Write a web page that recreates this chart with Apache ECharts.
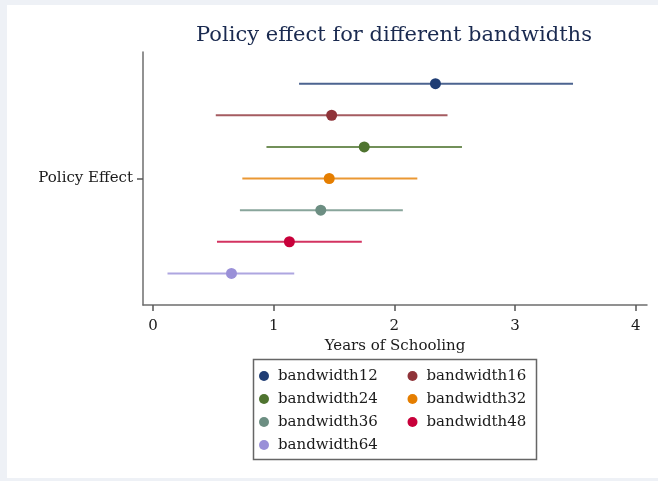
<!DOCTYPE html>
<html>
<head>
<meta charset="utf-8">
<script src="https://cdn.jsdelivr.net/npm/echarts@6/dist/echarts.min.js"></script>
<style>
html,body{margin:0;padding:0;background:#fff;}
#chart{width:658px;height:481px;}
</style>
</head>
<body>
<div id="chart"></div>
<script>
const names = ['bandwidth12','bandwidth16','bandwidth24','bandwidth32','bandwidth36','bandwidth48','bandwidth64'];
const estimates = [2.34, 1.48, 1.75, 1.46, 1.39, 1.13, 0.65];
const lower = [1.21, 0.52, 0.94, 0.74, 0.72, 0.53, 0.12];
const upper = [3.48, 2.44, 2.56, 2.19, 2.07, 1.73, 1.17];
const xTicks = [0, 1, 2, 3, 4];
const yTickValues = [4];
const yTickLabels = ['Policy Effect'];
const colors = ['#1f3d74','#8f3339','#4f7430','#e57e00','#6c8e82','#c8003a','#9a90d8'];

const serif = 'DejaVu Serif';
const series = [];
names.forEach((n, i) => {
  const row = names.length - i;
  series.push({
    name: n, type: 'scatter', symbol: 'circle', symbolSize: 11, z: 4,
    itemStyle: {color: colors[i], opacity: 1},
    data: [[estimates[i], row]]
  });
});
names.forEach((n, i) => {
  const row = names.length - i;
  series.push({
    name: n, type: 'custom', z: 2,
    itemStyle: {color: colors[i]},
    encode: {x: [0, 1], y: 2},
    data: [[lower[i], upper[i], row]],
    renderItem: function (params, api) {
      const y = api.value(2);
      const p1 = api.coord([api.value(0), y]);
      const p2 = api.coord([api.value(1), y]);
      return {type: 'line', shape: {x1: p1[0], y1: p1[1], x2: p2[0], y2: p2[1]},
        style: {stroke: colors[i], lineWidth: 2, opacity: 0.8}};
    }
  });
});

const chart = echarts.init(document.getElementById('chart'));
chart.setOption({
  backgroundColor: '#eef1f6',
  animation: false,
  graphic: [
    {type: 'rect', z: -10, silent: true, shape: {x: 7, y: 5, width: 651, height: 473}, style: {fill: '#ffffff'}},
    {type: 'rect', z: 10, silent: true, shape: {x: 253.5, y: 359.5, width: 283, height: 100}, style: {fill: 'none', stroke: '#666', lineWidth: 1.5}}
  ],
  title: {
    text: 'Policy effect for different bandwidths',
    left: 389, top: 20, textAlign: 'center',
    textStyle: {fontFamily: serif, fontSize: 21, fontWeight: 'normal', color: '#1a2a50'}
  },
  legend: {
    left: 259, top: 368, width: 300, padding: 0,
    itemWidth: 10, itemHeight: 10, itemGap: 7,
    icon: 'circle',
    data: names,
    selectedMode: false,
    textStyle: {fontFamily: serif, fontSize: 15, lineHeight: 16, color: '#1a1a1a', width: 122.5, padding: [0, 0, 0, 4]}
  },
  grid: {left: 143, right: 11, top: 52, bottom: 176},
  xAxis: {
    type: 'value', min: -0.083, max: 4.093,
    name: 'Years of Schooling', nameLocation: 'middle', nameGap: 26,
    nameTextStyle: {fontFamily: serif, fontSize: 15, color: '#1a1a1a', lineHeight: 15},
    splitLine: {show: false},
    axisLine: {show: true, onZero: false, lineStyle: {color: '#6e6e6e', width: 1.5}},
    axisTick: {show: true, length: 6, customValues: xTicks, lineStyle: {color: '#555', width: 1.5}},
    axisLabel: {customValues: xTicks, margin: 14, fontFamily: serif, fontSize: 15, lineHeight: 15, color: '#1a1a1a'}
  },
  yAxis: {
    type: 'value', min: 0, max: 8,
    splitLine: {show: false},
    axisLine: {show: true, onZero: false, lineStyle: {color: '#6e6e6e', width: 1.5}},
    axisTick: {show: true, length: 6, customValues: yTickValues, lineStyle: {color: '#555', width: 1.5}},
    axisLabel: {customValues: yTickValues, margin: 10, fontFamily: serif, fontSize: 15, color: '#1a1a1a',
      formatter: function (v) { const k = yTickValues.indexOf(v); return k >= 0 ? yTickLabels[k] : ''; }}
  },
  series: series
});
</script>
</body>
</html>
